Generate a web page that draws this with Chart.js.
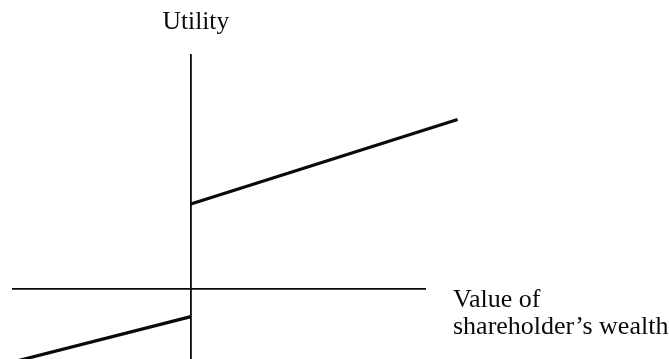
<!DOCTYPE html>
<html>
<head>
<meta charset="utf-8">
<title>Utility and shareholder's wealth</title>
<script src="https://cdn.jsdelivr.net/npm/chart.js@4/dist/chart.umd.min.js"></script>
<style>
  html, body { margin: 0; padding: 0; background: #fff; }
  #chart { display: block; }
</style>
</head>
<body>
<canvas id="chart" width="669" height="359"></canvas>
<script>
// valores (unidades arbitrarias, origen en el cruce de ejes)
const gainWealth = [0, 9];
const gainUtility = [2.87, 5.72];
const lossWealth = [-6, 0];
const lossUtility = [-2.46, -0.93];

const yAxisLabel = 'Utility';
const xAxisLabel = ['Value of', 'shareholder\u2019s wealth'];

const ink = '#0a0a0a';
const serif = '"Liberation Serif", "Times New Roman", serif';

const toPoints = (xs, ys) => xs.map((x, i) => ({ x: x, y: ys[i] }));

// textos de los ejes, colocados con las escalas del grafico
const axisText = {
  id: 'axisText',
  afterDraw(chart) {
    const { ctx, scales: { x, y } } = chart;
    ctx.save();
    ctx.fillStyle = ink;
    ctx.textBaseline = 'alphabetic';

    ctx.font = '25.5px ' + serif;
    ctx.textAlign = 'center';
    ctx.fillText(yAxisLabel, x.getPixelForValue(0) + 5, y.top - 26);

    ctx.font = '26px ' + serif;
    ctx.textAlign = 'left';
    const left = x.right + 28;
    const base = y.getPixelForValue(0) + 18;
    ctx.fillText(xAxisLabel[0], left, base);
    ctx.fillText(xAxisLabel[1], left, base + 27);
    ctx.restore();
  }
};

const axisStyle = {
  type: 'linear',
  grid: { display: false },
  ticks: { display: false },
  border: { display: true, color: ink, width: 1.8 }
};

new Chart(document.getElementById('chart'), {
  type: 'line',
  data: {
    datasets: [
      {
        data: toPoints(gainWealth, gainUtility),
        borderColor: ink,
        borderWidth: 3.2,
        pointRadius: 0,
        clip: false
      },
      {
        data: toPoints(lossWealth, lossUtility),
        borderColor: ink,
        borderWidth: 3.2,
        pointRadius: 0,
        clip: false
      }
    ]
  },
  options: {
    responsive: false,
    animation: false,
    layout: { padding: { left: 13, right: 244, top: 55, bottom: 0 } },
    plugins: {
      legend: { display: false },
      tooltip: { enabled: false }
    },
    scales: {
      x: Object.assign({}, axisStyle, { min: -6, max: 7.9, position: { y: 0 } }),
      y: Object.assign({}, axisStyle, { min: -2.36, max: 7.9, position: { x: 0 } })
    }
  },
  plugins: [axisText]
});
</script>
</body>
</html>
